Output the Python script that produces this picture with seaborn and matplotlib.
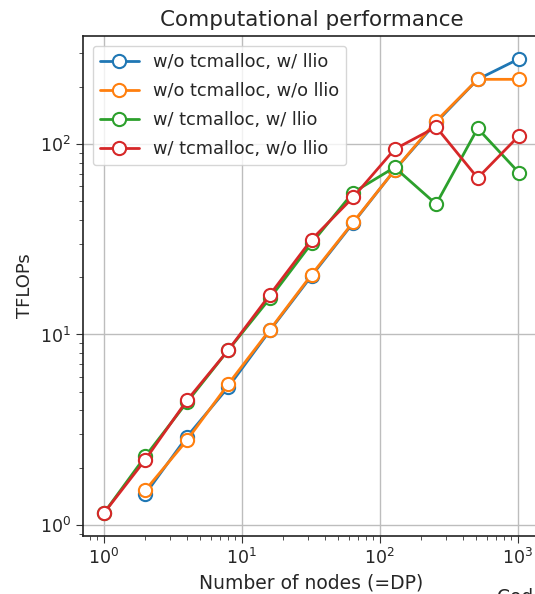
import numpy as np
import pandas as pd
import matplotlib
matplotlib.use("Agg")
import matplotlib.pyplot as plt
import seaborn as sns

nodes = [1, 2, 4, 8, 16, 32, 64, 128, 256, 512, 1024]
series_names = ["w/o tcmalloc, w/ llio", "w/o tcmalloc, w/o llio",
                "w/ tcmalloc, w/ llio", "w/ tcmalloc, w/o llio"]
wo_tc_w_llio = [np.nan, 1.45, 2.9, 5.3, 10.5, 20.3, 38.5, 73, 130, 219, 281]
wo_tc_wo_llio = [np.nan, 1.52, 2.78, 5.5, 10.6, 20.6, 38.8, 73, 132, 219, 219]
w_tc_w_llio = [1.15, 2.29, 4.4, 8.3, 15.5, 30.1, 55.7, 75.5, 48.4, 121, 70.5]
w_tc_wo_llio = [1.15, 2.2, 4.5, 8.3, 16.2, 31.5, 52.5, 94, 123, 66.4, 111]
colors = ["#1f77b4", "#ff7f0e", "#2ca02c", "#d62728"]

sns.set_style("ticks")
plt.rcParams['font.family'] = ['DejaVu Sans']

fig = plt.figure(figsize=(5.35, 5.94), dpi=100)
W, H = 535, 594
ax = fig.add_axes([83 / W, (H - 536) / H, (540 - 83) / W, (536 - 36) / H])

for name, vals, c in zip(series_names,
                         [wo_tc_w_llio, wo_tc_wo_llio, w_tc_w_llio, w_tc_wo_llio],
                         colors):
    df = pd.DataFrame({"nodes": nodes, "tflops": vals}).dropna()
    sns.lineplot(data=df, x="nodes", y="tflops", ax=ax, color=c, label=name,
                 marker="o", markersize=9.5, markerfacecolor="white",
                 markeredgecolor=c, markeredgewidth=1.5, linewidth=2)

ax.set_xscale("log")
ax.set_yscale("log")
ax.grid(True, which="major", color="#bdbdbd", linewidth=1)
ax.set_axisbelow(True)
for s in ax.spines.values():
    s.set_color("#222222")
    s.set_linewidth(1.2)
ax.tick_params(axis="both", which="major", labelsize=12.5, length=5, color="#333333")
ax.tick_params(axis="both", which="minor", length=3, color="#333333")

ax.set_title("Computational performance", fontsize=15.5, pad=7)
ax.set_xlabel("Number of nodes (=DP)", fontsize=13.5, labelpad=4)
ax.set_ylabel("TFLOPs", fontsize=13)
leg = ax.legend(loc="upper left", fontsize=12.8, frameon=True, framealpha=0.8,
                edgecolor="#cccccc", handlelength=2.2, labelspacing=0.62,
                borderaxespad=0.55)

fig.text(497 / W, (H - 588) / H, "Cod", fontsize=13.5, va="top", ha="left")

fig.savefig("out.png", dpi=100)
